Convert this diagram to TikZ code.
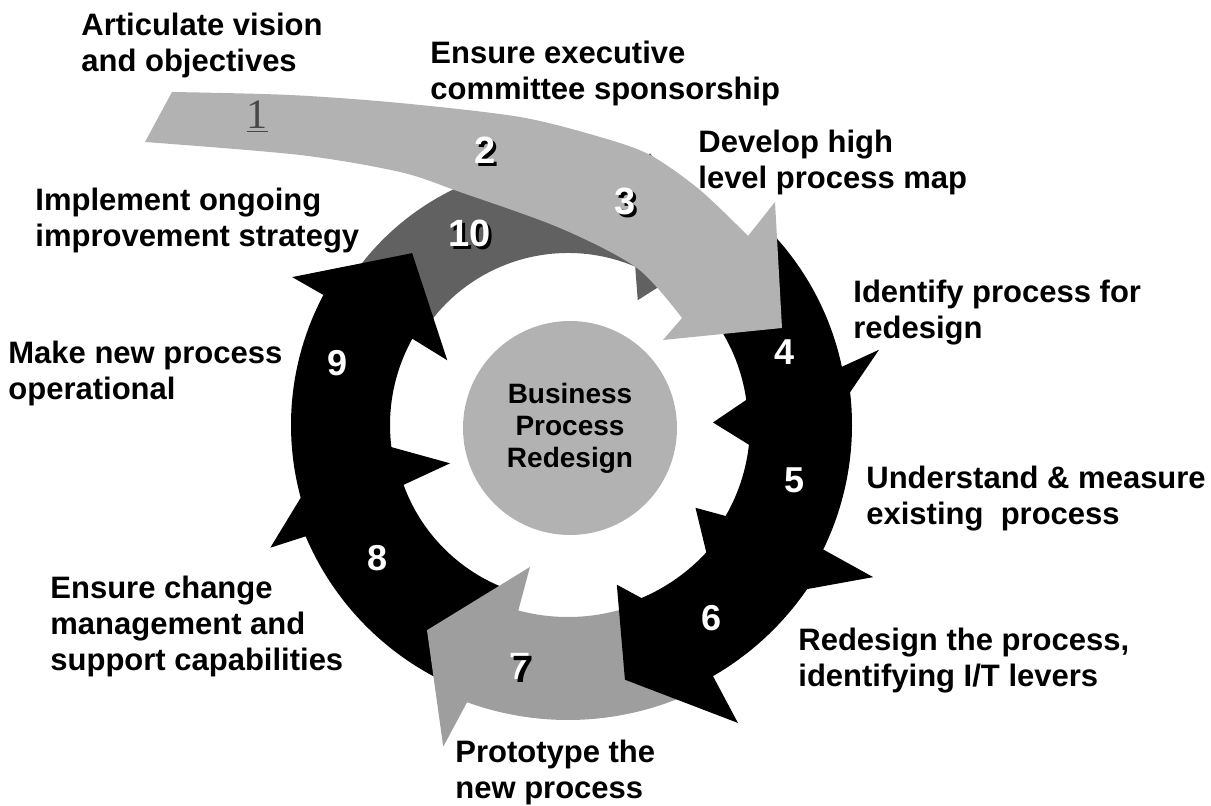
\documentclass[tikz,border=0pt]{standalone}
\usepackage{fontspec}
\setmainfont{Liberation Sans}
\newfontfamily\serifnum{Liberation Serif}
% white digit with a dark drop shadow, and the reverse
\newcommand{\raisedigit}[1]{\rlap{\kern1.4pt\raisebox{-1.4pt}{\color{black}#1}}{\color{white}#1}}
\newcommand{\sunkdigit}[1]{\rlap{\kern-1.3pt\raisebox{1.3pt}{\color{white}#1}}{\color{black}#1}}
\begin{document}
\begin{tikzpicture}[x=0.5pt, y=-0.5pt, every node/.style={inner sep=0pt},
  lbl/.style={font=\fontsize{15.5pt}{18pt}\selectfont\bfseries, align=left, anchor=north west},
  ringnum/.style={font=\fontsize{18pt}{18pt}\selectfont\bfseries, text=white},
  bandnum/.style={font=\fontsize{19pt}{18pt}\selectfont\bfseries},
  lightfill/.style={fill=black!30}]
\useasboundingbox (0,0) rectangle (1211,806);

% ring of steps 4..10, angles run clockwise on the page
\begin{scope}[shift={(568,425)}]
\fill[black!62] (212:262) arc[start angle=212, end angle=285, radius=262] -- (286.8:284) -- (310:225) -- (299.2:143) -- (293:172) arc[start angle=293, end angle=212, radius=172] -- cycle;
\fill[black] (112:285) arc[start angle=112, end angle=157, radius=285] -- (157.6:322) -- (178:228) -- (162:124) -- (160:175) arc[start angle=160, end angle=112, radius=175] -- cycle;
\fill[black] (160:277) arc[start angle=160, end angle=208, radius=277] -- (208.2:313) -- (227.8:232) -- (208.2:137) -- (209:178) arc[start angle=209, end angle=160, radius=178] -- cycle;
\fill[black!38] (65:295) arc[start angle=65, end angle=110, radius=295] -- (111.2:345) -- (124.5:249) -- (105:147) -- (105:192) arc[start angle=105, end angle=65, radius=192] -- cycle;
\fill[black] (28:290) arc[start angle=28, end angle=60, radius=290] -- (60.3:343) -- (77.4:261) -- (73:167) -- (67:188) arc[start angle=67, end angle=28, radius=188] -- cycle;
\fill[black] (-10:284) arc[start angle=-10, end angle=26, radius=284] -- (26.5:341) -- (50:235) -- (33:152) -- (30:182) arc[start angle=30, end angle=-10, radius=182] -- cycle;
\fill[black] (-42:280) arc[start angle=-42, end angle=-12, radius=280] -- (-13.6:320) -- (12:232) -- (-1:145) -- (-8:180) arc[start angle=-8, end angle=-42, radius=180] -- cycle;
\end{scope}

% the long lead-in arrow for steps 1..3
\fill[lightfill] plot[smooth] coordinates {(172,92) (290,95) (400,103) (520,117) (600,137) (650,155) (700,190) (748,236)}
  -- (775,202) -- (782,328) -- (663,340)
  -- plot[smooth] coordinates {(682,318) (637,268) (560,228) (460,192) (400,172) (300,155) (145,142)} -- cycle;

\node[circle, lightfill, minimum size=107pt, align=center,
  font=\fontsize{14pt}{16pt}\selectfont\bfseries] (hub) at (570,428) {Business\\Process\\Redesign};

% step numbers
\node[font=\fontsize{21pt}{18pt}\selectfont\serifnum, text=black!72] (n1) at (257,117) {\underline{1}};
\node[bandnum] (n2) at (485,152) {\raisedigit{2}};
\node[bandnum] (n3) at (625,203) {\raisedigit{3}};
\node[ringnum] (n4) at (785,352) {4};
\node[ringnum] (n5) at (795,480) {5};
\node[ringnum] (n6) at (712,618) {6};
\node[bandnum] (n7) at (523,668) {\sunkdigit{7}};
\node[ringnum] (n8) at (378,558) {8};
\node[ringnum] (n9) at (338,363) {9};
\node[bandnum] (n10) at (470,235) {\raisedigit{10}};

% step labels
\node[lbl] (art) at (81,12.5) {Articulate vision\\and objectives};
\node[lbl] (exec) at (430,40.5) {Ensure executive\\committee sponsorship};
\node[lbl] (map) at (698,129.5) {Develop high\\level process map};
\node[lbl] (ident) at (853,279.5) {Identify process for\\redesign};
\node[lbl] (measure) at (866,465.5) {Understand \& measure\\existing\ \ process};
\node[lbl] (redes) at (798,627.5) {Redesign the process,\\identifying I/T levers};
\node[lbl] (proto) at (455,739.5) {Prototype the\\new process};
\node[lbl] (change) at (50,575.5) {Ensure change\\management and\\support capabilities};
\node[lbl] (oper) at (8,340.5) {Make new process\\operational};
\node[lbl] (improve) at (35,187.5) {Implement ongoing\\improvement strategy};
\end{tikzpicture}
\end{document}
